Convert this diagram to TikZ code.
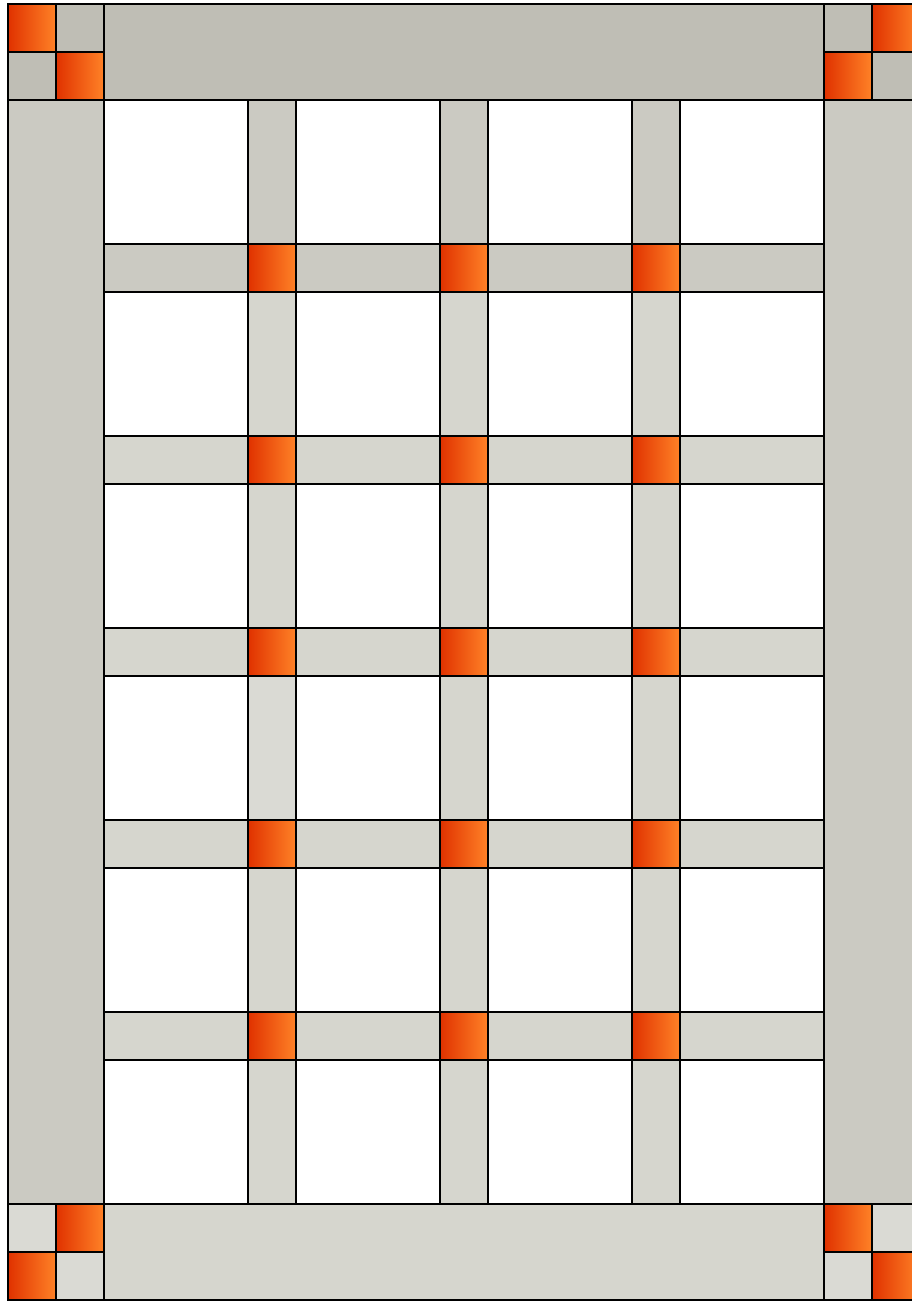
\documentclass[tikz,border=0pt]{standalone}
\usepackage{tikz}

\definecolor{topgray}{HTML}{BFBEB5}
\definecolor{sidegray}{HTML}{CBCAC2}
\definecolor{sashgray}{HTML}{D6D6CE}
\definecolor{palegray}{HTML}{DADAD4}
\definecolor{stoneA}{HTML}{E03200}
\definecolor{stoneB}{HTML}{FF8227}

\tikzset{
  patch/.style={draw=black,line width=0.45pt},
  stone/.style={patch,left color=stoneA,right color=stoneB}
}

\begin{document}
\begin{tikzpicture}[x=0.5cm,y=-0.5cm,line join=miter]
  \useasboundingbox (-0.1667,-0.0833) rectangle (18.8333,27.0833);
  % borders
  \draw[patch,fill=topgray] (2,0) rectangle (17,2);
  \draw[patch,fill=sidegray] (0,2) rectangle (2,25);
  \draw[patch,fill=sidegray] (17,2) rectangle (19,25);
  \draw[patch,fill=sashgray] (2,25) rectangle (17,27);
  % corner blocks, top
  \foreach \x/\y in {1/0,0/1,17/0,18/1}
    \draw[patch,fill=topgray] (\x,\y) rectangle ++(1,1);
  \foreach \x/\y in {0/0,1/1,18/0,17/1}
    \shade[stone] (\x,\y) rectangle ++(1,1);
  % corner blocks, bottom
  \foreach \x/\y in {0/25,1/26,18/25,17/26}
    \draw[patch,fill=palegray] (\x,\y) rectangle ++(1,1);
  \foreach \x/\y in {1/25,0/26,17/25,18/26}
    \shade[stone] (\x,\y) rectangle ++(1,1);
  % blocks
  \foreach \i in {0,...,3}
    \foreach \j in {0,...,5}
      \draw[patch,fill=white] ({2+4*\i},{2+4*\j}) rectangle ++(3,3);
  % sashing, vertical
  \foreach \i in {0,1,2}
    \foreach \j in {0,...,5}{
      \ifnum\j=0 \def\sash{sidegray}\else \def\sash{sashgray}\fi
      \ifnum\j=3 \ifnum\i=0 \def\sash{palegray}\fi\fi
      \draw[patch,fill=\sash] ({5+4*\i},{2+4*\j}) rectangle ++(1,3);
    }
  % sashing, horizontal
  \foreach \i in {0,...,3}
    \foreach \j in {0,...,4}{
      \ifnum\j=0 \def\sash{sidegray}\else \def\sash{sashgray}\fi
      \draw[patch,fill=\sash] ({2+4*\i},{5+4*\j}) rectangle ++(3,1);
    }
  % cornerstones
  \foreach \i in {0,1,2}
    \foreach \j in {0,...,4}
      \shade[stone] ({5+4*\i},{5+4*\j}) rectangle ++(1,1);
\end{tikzpicture}
\end{document}
